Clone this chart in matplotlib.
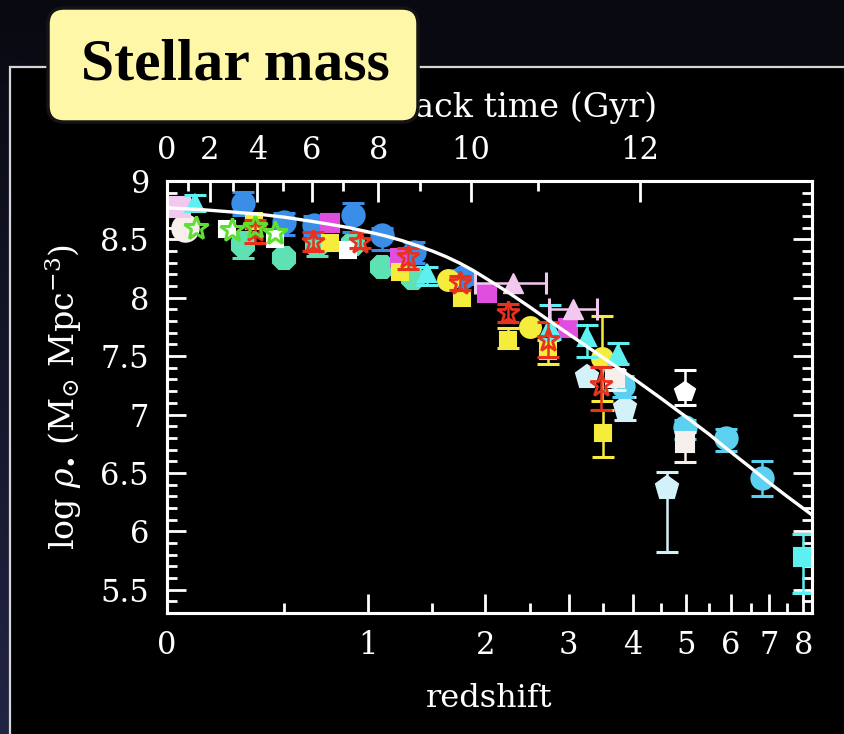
import numpy as np
import matplotlib
matplotlib.use("Agg")
import matplotlib.pyplot as plt
from matplotlib.patches import FancyBboxPatch, Rectangle

plt.rcParams['font.family'] = ['DejaVu Serif']
plt.rcParams['mathtext.fontset'] = 'dejavuserif'

W, H, DPI = 844, 734, 100

# ---------------- data: redshift, log stellar mass density, errors ----------------
plum_sq_z = [0.046]
plum_sq_y = [8.78]

plum_tri_z = [2.30, 3.06]
plum_tri_y = [8.13, 7.90]
plum_tri_zlo = [1.90, 2.74]
plum_tri_zhi = [2.70, 3.41]

cyan_tri_z = [0.10, 1.45, 2.75, 3.26, 3.75]
cyan_tri_y = [8.81, 8.21, 7.75, 7.66, 7.52]
cyan_tri_elo = [0.07, 0.10, 0.10, 0.17, 0.09]
cyan_tri_ehi = [0.07, 0.05, 0.19, 0.11, 0.09]

cyan_sq_z = [7.98]
cyan_sq_y = [5.78]
cyan_sq_elo = [0.31]
cyan_sq_ehi = [0.20]

blue_z = [0.30, 0.50, 0.66, 0.90, 1.10, 1.35, 1.78]
blue_y = [8.81, 8.65, 8.62, 8.71, 8.54, 8.39, 8.18]
blue_elo = [0.10, 0.11, 0.08, 0.15, 0.13, 0.09, 0.06]
blue_ehi = [0.095, 0.08, 0.08, 0.10, 0.06, 0.09, 0.06]

shell_circ_z = [0.064]
shell_circ_y = [8.60]

shell_sq_z = [3.70, 4.98]
shell_sq_y = [7.31, 6.76]
shell_sq_elo = [0.10, 0.17]
shell_sq_ehi = [0.07, 0.09]

white_sq_z = [0.23, 0.45, 0.87]
white_sq_y = [8.59, 8.50, 8.41]

white_pent_z = [4.98]
white_pent_y = [7.19]
white_pent_elo = [0.11]
white_pent_ehi = [0.19]

green_star_z = [0.105, 0.25, 0.355, 0.45]
green_star_y = [8.60, 8.58, 8.61, 8.555]

aqua_z = [0.30, 0.50, 0.68, 0.90, 1.10, 1.34]
aqua_y = [8.45, 8.34, 8.45, 8.46, 8.26, 8.17]
aqua_elo = [0.11, 0.0, 0.09, 0.0, 0.0, 0.0]
aqua_ehi = [0.11, 0.0, 0.09, 0.0, 0.0, 0.0]

yel_sq_z = [0.35, 0.755, 1.235, 1.77, 2.25, 2.73, 3.50]
yel_sq_y = [8.66, 8.47, 8.22, 8.00, 7.64, 7.54, 6.84]
yel_sq_elo = [0, 0, 0, 0, 0.07, 0.11, 0.20]
yel_sq_ehi = [0, 0, 0, 0, 0.10, 0.10, 0.20]

yel_circ_z = [1.64, 2.50, 3.49]
yel_circ_y = [8.15, 7.75, 7.48]
yel_circ_elo = [0, 0, 0.36]
yel_circ_ehi = [0, 0, 0.36]

red_star_z = [0.355, 0.656, 0.95, 1.30, 1.75, 2.25, 2.73, 3.47]
red_star_y = [8.58, 8.48, 8.48, 8.35, 8.13, 7.87, 7.64, 7.25]
red_star_elo = [0.11, 0.08, 0.05, 0.10, 0.06, 0.08, 0.15, 0.21]
red_star_ehi = [0.09, 0.08, 0.08, 0.08, 0.06, 0.08, 0.15, 0.16]

mag_sq_z = [0.755, 1.235, 2.02, 2.99]
mag_sq_y = [8.64, 8.34, 8.04, 7.74]

sky_z = [3.83, 4.98, 5.89, 6.80]
sky_y = [7.24, 6.89, 6.80, 6.46]
sky_elo = [0.09, 0.10, 0.11, 0.16]
sky_ehi = [0.09, 0.065, 0.08, 0.14]

lcyan_z = [3.26, 3.86, 4.62]
lcyan_y = [7.32, 7.06, 6.37]
lcyan_elo = [0, 0.11, 0.55]
lcyan_ehi = [0, 0.09, 0.14]

# fitted mass density curve
fit_z = [0.0, 0.125, 0.25, 0.375, 0.5, 0.625, 0.75, 0.875, 1.0, 1.125, 1.25, 1.375,
         1.5, 1.625, 1.75, 1.875, 2.0, 2.25, 2.5, 2.75, 3.0, 3.5, 4.0, 4.5, 5.0,
         5.5, 6.0, 6.5, 7.0, 7.5, 8.27]
fit_y = [8.77, 8.755, 8.735, 8.715, 8.69, 8.66, 8.63, 8.60, 8.565, 8.53, 8.49, 8.445,
         8.40, 8.35, 8.295, 8.235, 8.17, 8.045, 7.92, 7.80, 7.69, 7.49, 7.31, 7.14, 6.98,
         6.83, 6.68, 6.545, 6.415, 6.30, 6.14]

x_ticks = [0, 1, 2, 3, 4, 5, 6, 7, 8]
x_minor = [0.5, 1.5, 2.5, 3.5, 4.5, 5.5, 6.5, 7.5]
y_ticks = [5.5, 6, 6.5, 7, 7.5, 8, 8.5, 9]
lookback_major = [0, 2, 4, 6, 8, 10, 12]
lookback_minor = [1, 3, 5, 7, 9, 11, 13]

ZMAX = 8.27
YLIM = (5.30, 9.0)

# ---------------- lookback time (flat LCDM, H0=70, Om=0.3) ----------------
zz = np.linspace(0, 20, 40001)
integrand = 1.0 / ((1 + zz) * np.sqrt(0.3 * (1 + zz) ** 3 + 0.7))
tlb = 977.8 / 70.0 * np.concatenate(
    [[0.0], np.cumsum(0.5 * (integrand[1:] + integrand[:-1]) * np.diff(zz))])


def z_at_lookback(t):
    return np.interp(t, tlb, zz)


def fwd(z):
    return np.log10(np.clip(1 + np.asarray(z, dtype=float), 1e-9, None))


def inv(L):
    return 10 ** np.asarray(L, dtype=float) - 1


# ---------------- figure ----------------
fig = plt.figure(figsize=(W / DPI, H / DPI), dpi=DPI)

bg = fig.add_axes([0, 0, 1, 1], zorder=-5)
yy, xx = np.mgrid[0:1:200j, 0:1:200j]
shade = np.clip(yy * (1 - xx * 3), 0, 1)[..., None]
top_c = np.array([9, 9, 17]) / 255.0
bot_c = np.array([34, 36, 68]) / 255.0
grad = top_c + (bot_c - top_c) * shade
bg.imshow(grad, extent=[0, W, H, 0], aspect='auto', interpolation='bilinear')
bg.add_patch(Rectangle((10, 67), W + 20, H, facecolor='black',
                       edgecolor='#d6d6d6', lw=1.6))
bg.set_xlim(0, W)
bg.set_ylim(H, 0)
bg.axis('off')

ax = fig.add_axes([167 / W, 1 - 613 / H, (812 - 167) / W, (613 - 181) / H], zorder=1)
ax.set_facecolor('black')
ax.set_xscale('function', functions=(fwd, inv))
ax.set_xlim(0, ZMAX)
ax.set_ylim(*YLIM)

CAP = 8
CAPT = 2.2
ELW = 1.8


def series(z, y, marker, color, ms, elo=None, ehi=None, mfc=None, zo=3, mew=1.5):
    z = np.asarray(z, float)
    y = np.asarray(y, float)
    face = color if mfc is None else mfc
    if elo is not None:
        elo = np.asarray(elo, float)
        ehi = np.asarray(ehi, float)
        m = (elo > 0) | (ehi > 0)
        if m.any():
            ax.errorbar(z[m], y[m], yerr=[elo[m], ehi[m]], fmt='none', ecolor=color,
                        elinewidth=ELW, capsize=CAP, capthick=CAPT, zorder=zo)
    ax.plot(z, y, linestyle='none', marker=marker, ms=ms, mfc=face, mec=color,
            mew=mew, zorder=zo + 0.1)


series(aqua_z, aqua_y, '8', '#5fe2b3', 17, aqua_elo, aqua_ehi, zo=3)
series(blue_z, blue_y, 'o', '#3a8ee8', 16, blue_elo, blue_ehi, zo=3.2)
series(shell_circ_z, shell_circ_y, 'o', '#f7efec', 19, zo=3.3)
series(plum_sq_z, plum_sq_y, 's', '#f3c8ef', 14, zo=3.4)
series(mag_sq_z, mag_sq_y, 's', '#e04ee0', 13, zo=3.5)
series(yel_sq_z, yel_sq_y, 's', '#f5ec3c', 12, yel_sq_elo, yel_sq_ehi, zo=3.6)
series(yel_circ_z, yel_circ_y, 'o', '#f5ec3c', 15, yel_circ_elo, yel_circ_ehi, zo=3.6)
series(white_sq_z, white_sq_y, 's', '#ffffff', 12, zo=3.7)
series(cyan_tri_z, cyan_tri_y, '^', '#5cf0f0', 13, cyan_tri_elo, cyan_tri_ehi, zo=3.8)
series(cyan_sq_z, cyan_sq_y, 's', '#5cf0f0', 13, cyan_sq_elo, cyan_sq_ehi, zo=3.8)
series(lcyan_z, lcyan_y, 'p', '#d3f1f8', 17, lcyan_elo, lcyan_ehi, zo=3.9)
series(sky_z, sky_y, 'o', '#5bd0f0', 16, sky_elo, sky_ehi, zo=4.0)
series(shell_sq_z, shell_sq_y, 's', '#f7efec', 13, shell_sq_elo, shell_sq_ehi, zo=4.1)
series(white_pent_z, white_pent_y, 'p', '#ffffff', 15, white_pent_elo, white_pent_ehi, zo=4.1)
series(red_star_z, red_star_y, '*', '#e8321e', 17, red_star_elo, red_star_ehi,
       mfc='none', zo=4.2, mew=2.0)
series(green_star_z, green_star_y, '*', '#5ee030', 18, mfc='none', zo=4.3, mew=2.2)

# pale violet points with redshift-bin bars
pz = np.asarray(plum_tri_z)
ax.errorbar(pz, plum_tri_y,
            xerr=[pz - np.asarray(plum_tri_zlo), np.asarray(plum_tri_zhi) - pz],
            fmt='^', ms=14, color='#f3c8ef', ecolor='#f3c8ef', elinewidth=ELW,
            capsize=CAP, capthick=CAPT, zorder=4.4)

# model curve
ax.plot(fit_z, fit_y, color='white', lw=2.4, zorder=5, solid_joinstyle='round')

# ---------------- axes styling ----------------
top = ax.twiny()
top.set_zorder(2)
top.set_xscale('function', functions=(fwd, inv))
top.set_xlim(0, ZMAX)
tz_major = z_at_lookback(np.array(lookback_major, float))
tz_minor = z_at_lookback(np.array(lookback_minor, float))
keep = tz_minor < ZMAX
top.set_xticks(tz_major)
top.set_xticklabels([str(t) for t in lookback_major])
top.set_xticks(tz_minor[keep], minor=True)
top.set_xlabel('lookback time (Gyr)', color='white', fontsize=24, labelpad=13)

ax.set_xticks(x_ticks)
ax.set_xticklabels([str(t) for t in x_ticks])
ax.set_xticks(x_minor, minor=True)
ax.set_yticks(y_ticks)
ax.set_yticklabels(['%g' % v for v in y_ticks])
ax.set_yticks(np.round(np.arange(5.4, 9.0, 0.1), 2), minor=True)

for a in (ax, top):
    for s in a.spines.values():
        s.set_color('white')
        s.set_linewidth(2.2)

ax.tick_params(axis='both', which='both', direction='in', colors='white',
               labelsize=22, width=2.0)
ax.tick_params(axis='x', which='major', length=14, pad=12, top=False)
ax.tick_params(axis='x', which='minor', length=7, top=False)
ax.tick_params(axis='y', which='major', length=14, pad=13, right=True)
ax.tick_params(axis='y', which='minor', length=7, right=True)
top.tick_params(axis='x', which='both', direction='in', colors='white',
                labelsize=22, width=2.0)
top.tick_params(axis='x', which='major', length=15, pad=11)
top.tick_params(axis='x', which='minor', length=7)

ax.set_xlabel('redshift', color='white', fontsize=23, labelpad=16)
ax.set_ylabel(r'log $\rho_{\bullet}$ (M$_{\odot}$ Mpc$^{-3}$)', color='white',
              fontsize=24, labelpad=12)

# ---------------- title badge ----------------
ov = fig.add_axes([0, 0, 1, 1], zorder=10)
ov.set_xlim(0, W)
ov.set_ylim(H, 0)
ov.axis('off')
ov.add_patch(FancyBboxPatch((48, 8), 370, 114,
                            boxstyle='round,pad=0,rounding_size=16',
                            facecolor='#fff7a8', edgecolor='#141414', lw=2.5))
ov.text(235, 65, 'Stellar mass', ha='center', va='center', fontsize=43,
        fontweight='bold', family=['Liberation Serif', 'DejaVu Serif'], color='black')

fig.savefig('out.png', dpi=DPI, facecolor=fig.get_facecolor())
